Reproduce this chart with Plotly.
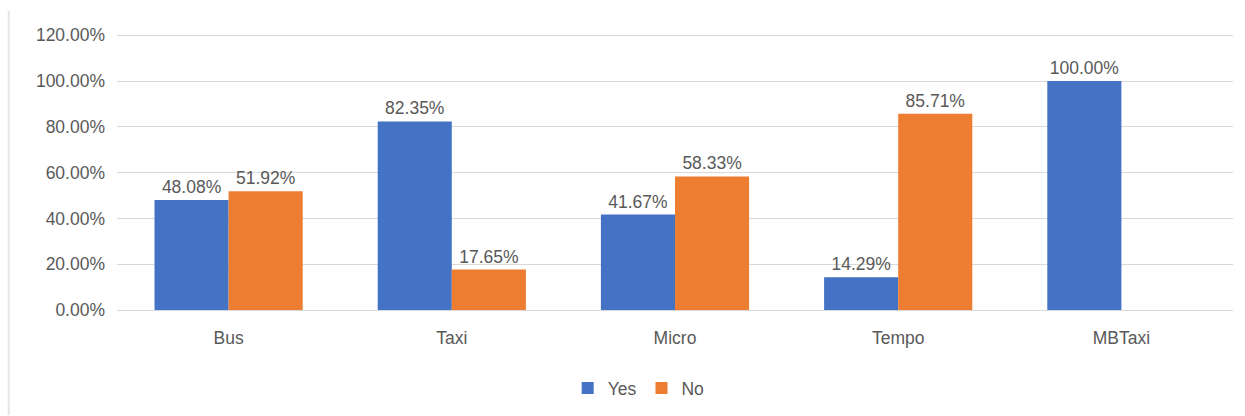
import plotly.graph_objects as go

categories = ["Bus", "Taxi", "Micro", "Tempo", "MBTaxi"]
yes_values = [48.08, 82.35, 41.67, 14.29, 100.00]
no_values = [51.92, 17.65, 58.33, 85.71, 0.0]
tick_values = [0, 20, 40, 60, 80, 100, 120]
tick_labels = ["0.00%", "20.00%", "40.00%", "60.00%", "80.00%", "100.00%", "120.00%"]

def labels(vals):
    return [f"{v:.2f}%" if v > 0 else "" for v in vals]

FONT = "Liberation Sans"
GRAY = "#595959"
FS = 17.5

fig = go.Figure()
fig.add_trace(go.Bar(
    name="Yes", x=categories, y=yes_values, marker_color="#4472C4",
    marker_line_width=0,
    text=labels(yes_values), textposition="outside", cliponaxis=False,
    textfont=dict(family=FONT, size=FS, color=GRAY),
))
fig.add_trace(go.Bar(
    name="No", x=categories, y=no_values, marker_color="#ED7D31",
    marker_line_width=0,
    text=labels(no_values), textposition="outside", cliponaxis=False,
    textfont=dict(family=FONT, size=FS, color=GRAY),
))

fig.update_layout(
    width=1245, height=416,
    margin=dict(l=117, r=12, t=33, b=106, autoexpand=False),
    paper_bgcolor="white", plot_bgcolor="white",
    barmode="group", bargap=0.336, bargroupgap=0,
    font=dict(family=FONT, size=FS, color=GRAY),
    showlegend=True,
    legend=dict(orientation="h", x=0.513, xanchor="center", xref="container",
                y=0.067, yanchor="middle", yref="container",
                font=dict(family=FONT, size=FS, color=GRAY), itemwidth=30),
)
fig.update_yaxes(
    range=[0, 121], tickvals=tick_values, ticktext=tick_labels,
    showgrid=True, gridcolor="#d9d9d9", gridwidth=1, zeroline=False,
    showline=False, ticks="", ticklen=0, ticklabelstandoff=11,
    automargin=False,
    tickfont=dict(family=FONT, size=FS, color=GRAY),
)
fig.update_xaxes(
    showline=True, linecolor="#d9d9d9", linewidth=1, ticks="",
    ticklabelstandoff=12, automargin=False,
    tickfont=dict(family=FONT, size=FS, color=GRAY),
)
fig.add_shape(type="line", xref="paper", yref="paper",
              x0=-0.097, x1=-0.097, y0=-0.38, y1=1.08,
              line=dict(color="#e6e6e6", width=2))

fig.write_html("out.html")
